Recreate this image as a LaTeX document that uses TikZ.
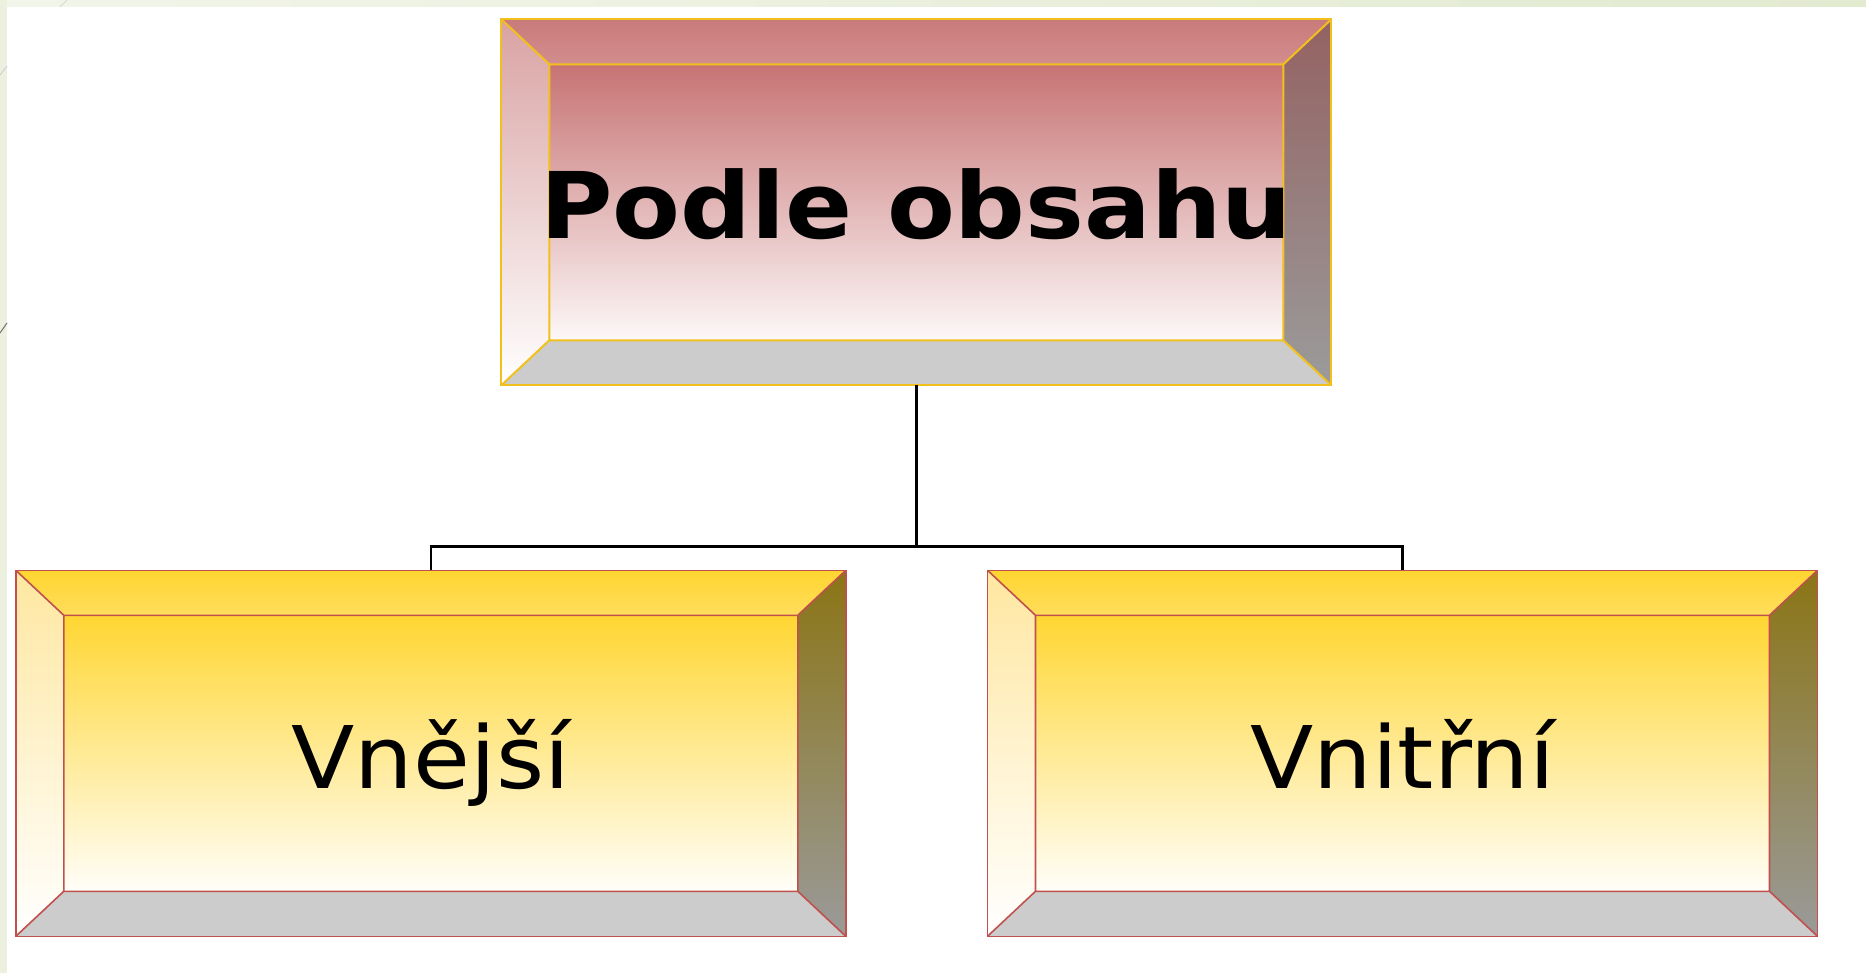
\documentclass[tikz,border=0pt]{standalone}
\usepackage{fontspec}
\setmainfont{DejaVu Sans}
\newfontfamily\headfont[FakeStretch=1.075]{DejaVu Sans}
\newfontfamily\leaffont[FakeStretch=1.07]{DejaVu Sans}
\usetikzlibrary{calc}

% slide frame
\definecolor{stripL}{HTML}{F2F5EA}
\definecolor{stripR}{HTML}{E2EAD0}
\definecolor{stripV}{HTML}{ECF0DF}
% rose bevel box
\definecolor{roseTopA}{HTML}{C97B7B}
\definecolor{roseTopB}{HTML}{D28D8D}
\definecolor{roseFaceA}{HTML}{C77373}
\definecolor{roseFaceB}{HTML}{FDF8F8}
\definecolor{roseLeftA}{HTML}{D9A2A2}
\definecolor{roseLeftB}{HTML}{FFFFFF}
\definecolor{roseRightA}{HTML}{946262}
\definecolor{roseRightB}{HTML}{9B9B9B}
\definecolor{roseBot}{HTML}{CCCCCC}
\definecolor{roseEdge}{HTML}{F2C01C}
% gold bevel boxes
\definecolor{goldTopA}{HTML}{FFD52F}
\definecolor{goldTopB}{HTML}{FFDD5C}
\definecolor{goldFaceA}{HTML}{FFD632}
\definecolor{goldFaceB}{HTML}{FFFEF9}
\definecolor{goldLeftA}{HTML}{FFE7A0}
\definecolor{goldLeftB}{HTML}{FFFFFF}
\definecolor{goldRightA}{HTML}{8B7515}
\definecolor{goldRightB}{HTML}{9A9A9A}
\definecolor{goldBot}{HTML}{CCCCCC}
\definecolor{goldEdge}{HTML}{C0504D}

% the five faces of a bevelled button, drawn inside the node outline
\newcommand\bevelfaces{%
  \path (path picture bounding box.north west) coordinate (bA)
        (path picture bounding box.north east) coordinate (bB)
        (path picture bounding box.south east) coordinate (bC)
        (path picture bounding box.south west) coordinate (bD);
  \path ($(bA)+(\bvx,\bvy)$) coordinate (iA)
        ($(bB)+(-\bvx,\bvy)$) coordinate (iB)
        ($(bC)+(-\bvx,-\bvy)$) coordinate (iC)
        ($(bD)+(\bvx,-\bvy)$) coordinate (iD);
  \fill[top color=\bvkind TopA, bottom color=\bvkind TopB] (bA)--(bB)--(iB)--(iA)--cycle;
  \fill[top color=\bvkind LeftA, bottom color=\bvkind LeftB] (bA)--(iA)--(iD)--(bD)--cycle;
  \fill[top color=\bvkind RightA, bottom color=\bvkind RightB] (bB)--(bC)--(iC)--(iB)--cycle;
  \fill[\bvkind Bot] (bD)--(iD)--(iC)--(bC)--cycle;
  \fill[top color=\bvkind FaceA, bottom color=\bvkind FaceB] (iA) rectangle (iC);
  \draw[\bvkind Edge, line join=round]
        (iA) rectangle (iC)
        (bA)--(iA) (bB)--(iB) (bC)--(iC) (bD)--(iD);
}

\tikzset{
  bvkind/.store in=\bvkind,
  bvx/.store in=\bvx,
  bvy/.store in=\bvy,
  bevelbox/.style={rectangle, inner sep=0pt, outer sep=0pt,
    minimum width=830pt, minimum height=366pt,
    bvx=48, bvy=45, text depth=0pt, path picture={\bevelfaces}},
  rosebox/.style={bevelbox, bvkind=rose, draw=roseEdge, line width=2pt,
    text height=73.4pt,
    font=\headfont\bfseries\fontsize{92}{100}\selectfont},
  goldbox/.style={bevelbox, bvkind=gold, draw=goldEdge, line width=1.6pt,
    text height=69.4pt,
    font=\leaffont\fontsize{86.4}{96}\selectfont},
  conn/.style={draw=black, line width=2.6pt, line join=miter},
  deco/.style={line width=1pt},
}

\begin{document}
\begin{tikzpicture}[x=1pt,y=-1pt]
\useasboundingbox (0,0) rectangle (1866,973);
\fill[white] (0,0) rectangle (1866,973);

% frame strips of the slide
\fill[left color=stripL, right color=stripR] (0,0) rectangle (1866,7);
\fill[stripV] (0,0) rectangle (7,973);
\draw[deco, color=black!15] (60,7) -- (67,0);
\draw[deco, color=black!18] (0,75) -- (7,66);
\draw[deco, color=black!55] (0,333) -- (7,323);

% boxes
\node[rosebox] (top) at (916.3,202.3) {Podle obsahu};
\node[goldbox] (outer) at (430.8,753.3) {Vnější};
\node[goldbox] (inner) at (1402.5,753.3) {Vnitřní};

% tree connector
\coordinate (bus) at (916.3,546.2);
\draw[conn] (top.south) -- (bus);
\draw[conn] (outer.north) |- (bus) -| (inner.north);
\end{tikzpicture}
\end{document}
